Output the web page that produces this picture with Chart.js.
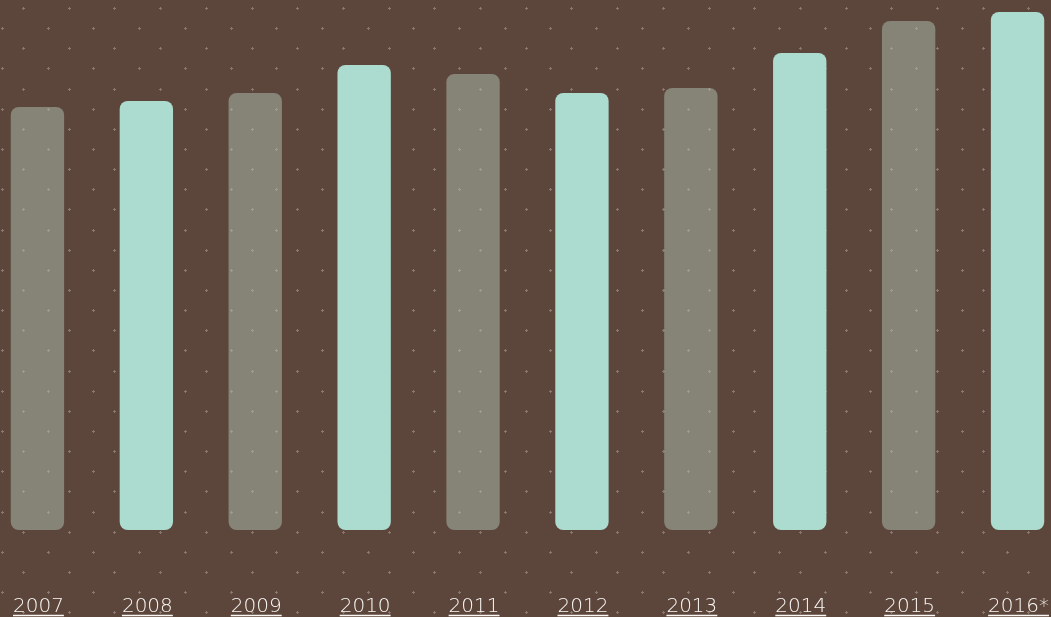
<!DOCTYPE html>
<html>
<head>
<meta charset="utf-8">
<script src="https://cdn.jsdelivr.net/npm/chart.js@4"></script>
<style>
  html, body { margin: 0; padding: 0; background: #5c463b; overflow: hidden; }
  #wrap { position: absolute; left: -17px; top: 0; width: 1089px; height: 617px; }
</style>
</head>
<body>
<div id="wrap"><canvas id="chart"></canvas></div>
<script>
const years = ["2007", "2008", "2009", "2010", "2011", "2012", "2013", "2014", "2015", "2016*"];
const values = [42.3, 42.9, 43.7, 46.5, 45.6, 43.7, 44.2, 47.7, 50.9, 51.8];
const yMax = 53;

const grey = "rgba(176, 194, 177, 0.5)";
const mint = "#acdbd0";
const labelColor = "#faf7f4";

// staggered dot pattern behind the bars
const dotGrid = {
    id: "dotGrid",
    beforeDatasetsDraw(chart) {
        const ctx = chart.ctx;
        const dx = 45.7, dy = 20.14;
        ctx.save();
        ctx.fillStyle = "#8a776d";
        for (let r = 0; r < 32; r++) {
            const y = Math.round(8 + (r - 1) * dy);
            const start = (r % 2 === 0) ? 2 - dx : 23 - dx;
            for (let x = start + 17; x < chart.width + dx; x += dx) {
                const px = Math.round(x);
                ctx.fillRect(px - 1, y, 3, 1);
                ctx.fillRect(px, y - 1, 1, 3);
            }
        }
        ctx.restore();
    }
};

// underlined year labels under each bar
const yearLabels = {
    id: "yearLabels",
    afterDraw(chart) {
        const ctx = chart.ctx;
        const scale = chart.scales.x;
        ctx.save();
        ctx.font = "200 20px 'DejaVu Sans'";
        ctx.fillStyle = labelColor;
        ctx.strokeStyle = labelColor;
        ctx.lineWidth = 1.5;
        ctx.textAlign = "center";
        ctx.textBaseline = "alphabetic";
        years.forEach((label, i) => {
            const x = scale.getPixelForValue(i) + 1;
            ctx.fillText(label, x, 612);
            const w = ctx.measureText(label).width;
            ctx.beginPath();
            ctx.moveTo(x - w / 2, 615.5);
            ctx.lineTo(x + w / 2, 615.5);
            ctx.stroke();
        });
        ctx.restore();
    }
};

new Chart(document.getElementById("chart"), {
    type: "bar",
    data: {
        labels: years,
        datasets: [{
            data: values,
            backgroundColor: values.map((v, i) => i % 2 === 0 ? grey : mint),
            borderRadius: 8,
            borderSkipped: false,
            barPercentage: 0.49,
            categoryPercentage: 1
        }]
    },
    options: {
        responsive: true,
        maintainAspectRatio: false,
        animation: false,
        layout: { padding: { top: 0, left: 0, right: 0, bottom: 87 } },
        plugins: {
            legend: { display: false },
            tooltip: { enabled: false }
        },
        scales: {
            x: { display: false },
            y: { display: false, min: 0, max: yMax }
        }
    },
    plugins: [dotGrid, yearLabels]
});
</script>
</body>
</html>
